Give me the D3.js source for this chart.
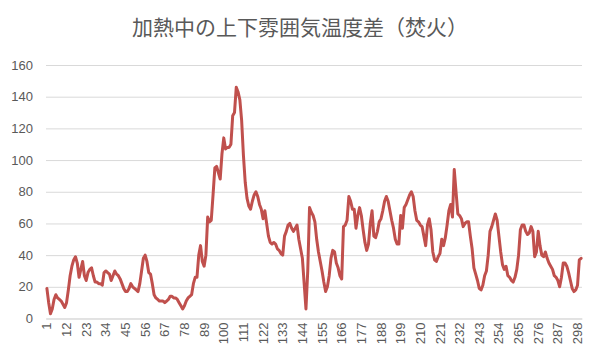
<!DOCTYPE html>
<html>
<head>
<meta charset="utf-8">
<script src="https://cdn.jsdelivr.net/npm/d3@7"></script>
<style>
  body { margin: 0; background: #fff; }
  svg { display: block; }
</style>
</head>
<body>
<svg id="chart" width="600" height="363"></svg>
<script>
const title = '加熱中の上下雰囲気温度差（焚火）'

// temperature difference per sample (1..300)
const tempDiff = [
  19, 10, 3, 6, 12, 15, 13, 12, 11, 9,
  7, 10, 18, 27, 33, 37, 39, 35, 26, 31,
  36, 27, 24, 29, 31, 32, 27, 23, 23, 22,
  22, 21, 29, 30, 29, 28, 24, 27, 30, 28,
  27, 25, 22, 19, 17, 17, 19, 22, 20, 19,
  18, 17, 22, 30, 38, 40, 36, 29, 28, 22,
  15, 13, 12, 11, 11, 11, 10, 11, 12, 14,
  14, 13, 13, 12, 10, 8, 6, 8, 11, 13,
  14, 15, 22, 26, 26, 40, 46, 36, 33, 40,
  64, 61, 62, 78, 95, 96, 92, 88, 104, 114,
  107, 108, 108, 110, 128, 130, 146, 143, 138, 125,
  103, 86, 76, 71, 69, 74, 78, 80, 77, 72,
  69, 63, 68, 60, 52, 48, 47, 48, 47, 44,
  43, 41, 40, 52, 55, 59, 60, 57, 55, 57,
  59, 50, 44, 38, 22, 6, 30, 70, 67, 65,
  61, 50, 42, 36, 30, 23, 17, 20, 27, 38,
  43, 42, 35, 32, 27, 25, 58, 59, 62, 77,
  74, 69, 69, 57, 65, 70, 65, 56, 48, 43,
  47, 60, 68, 52, 51, 55, 61, 63, 68, 74,
  77, 74, 68, 62, 57, 50, 47, 47, 65, 57,
  70, 72, 75, 78, 80, 77, 68, 62, 61, 59,
  58, 52, 46, 59, 63, 56, 42, 37, 36, 39,
  41, 50, 46, 51, 59, 68, 72, 64, 94, 80,
  66, 65, 63, 58, 60, 61, 61, 52, 44, 32,
  28, 24, 19, 18, 21, 27, 30, 40, 55, 58,
  62, 66, 62, 52, 42, 34, 31, 33, 27, 26,
  24, 23, 26, 31, 40, 56, 59, 59, 55, 53,
  54, 58, 55, 39, 42, 55, 46, 40, 39, 42,
  38, 35, 33, 31, 27, 26, 24, 20, 26, 35,
  35, 33, 29, 24, 19, 17, 18, 21, 37, 38
]
const samples = tempDiff.map((d, i) => i + 1)

const xTickLabels = [1, 12, 23, 34, 45, 56, 67, 78, 89, 100, 111, 122, 133, 144, 155, 166, 177, 188, 199, 210, 221, 232, 243, 254, 265, 276, 287, 298]
const yTicks = [0, 20, 40, 60, 80, 100, 120, 140, 160]

const svg = d3.select('#chart')
const plotLeft = 46, plotRight = 582, plotTop = 65, plotBottom = 318.5

const x = d3.scaleBand().domain(samples).range([plotLeft, plotRight])
const y = d3.scaleLinear().domain([0, 160]).range([plotBottom, plotTop])
const xc = d => x(d) + x.bandwidth() / 2

svg.append('text')
  .attr('x', 300)
  .attr('y', 35)
  .attr('text-anchor', 'middle')
  .style('font-family', '"Noto Sans CJK JP", sans-serif')
  .style('font-size', '21px')
  .style('fill', '#595959')
  .text(title)

// gridlines + y labels
const yAxis = svg.append('g')
  .attr('transform', 'translate(' + plotLeft + ',0)')
  .call(d3.axisLeft(y).tickValues(yTicks).tickSize(-(plotRight - plotLeft)).tickPadding(13))
yAxis.select('.domain').remove()
yAxis.selectAll('line').style('stroke', '#d9d9d9').style('stroke-width', 1)
yAxis.selectAll('text')
  .style('font-family', '"Liberation Sans", Arial, sans-serif')
  .style('font-size', '13px')
  .style('fill', '#595959')

// x axis
const xAxis = svg.append('g')
  .attr('transform', 'translate(0,' + plotBottom + ')')
  .call(d3.axisBottom(x).tickValues(xTickLabels).tickSize(0).tickPadding(4))
xAxis.select('.domain').style('stroke', '#d9d9d9')
xAxis.selectAll('text')
  .attr('transform', 'rotate(-90)')
  .attr('x', -4)
  .attr('y', 0)
  .attr('dy', '0.35em')
  .style('text-anchor', 'end')
  .style('font-family', '"Liberation Sans", Arial, sans-serif')
  .style('font-size', '13px')
  .style('fill', '#595959')

const line = d3.line()
  .x((d, i) => xc(samples[i]))
  .y(d => y(d))

svg.append('path')
  .datum(tempDiff)
  .attr('d', line)
  .style('fill', 'none')
  .style('stroke', '#c0504d')
  .style('stroke-width', 3)
  .style('stroke-linejoin', 'round')
  .style('stroke-linecap', 'round')
</script>
</body>
</html>
